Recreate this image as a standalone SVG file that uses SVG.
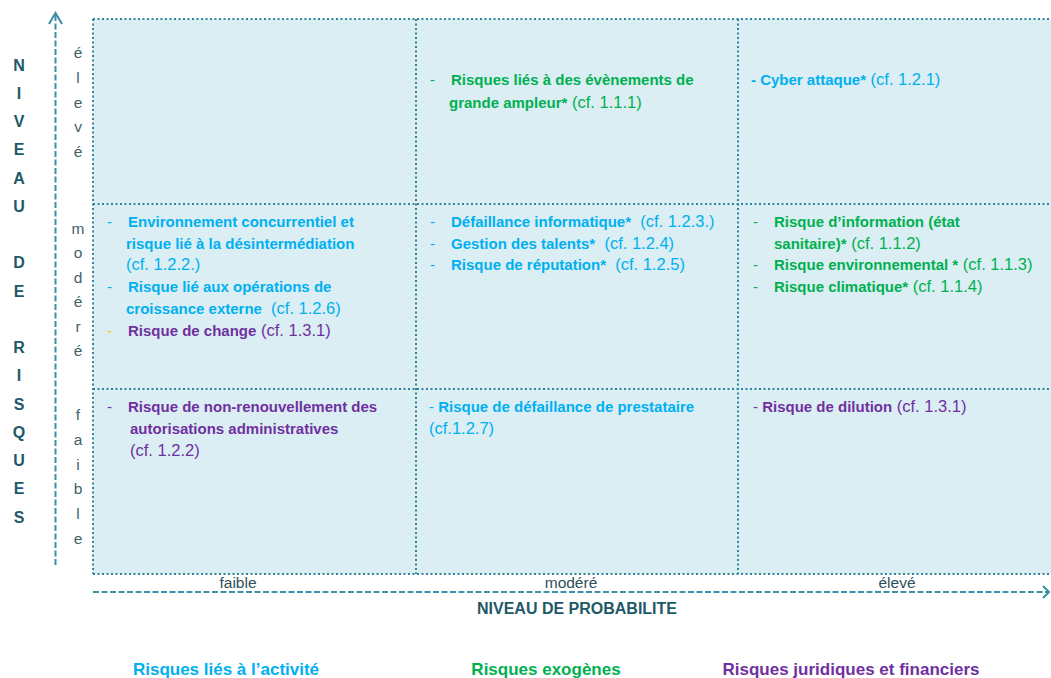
<svg xmlns="http://www.w3.org/2000/svg" width="1051" height="678" viewBox="0 0 1051 678">
<style>
text{font-family:"Liberation Sans",Arial,sans-serif;font-size:15px}
.b{font-weight:bold;font-size:15px}
.r{font-size:16.5px}
.blue{fill:#00B0F0}.green{fill:#00B050}.purple{fill:#7030A0}.orange{fill:#FFC000}
.grid{stroke:#31849B;stroke-width:2;stroke-dasharray:2 2.5;fill:none}
.axis{stroke:#3B8EA5;stroke-width:2;stroke-dasharray:6 2.5;fill:none}
.head{stroke:#3B8EA5;stroke-width:2;fill:none}
.vl{font-size:16px;font-weight:bold;fill:#215868;text-anchor:middle}
.sl{fill:#3F5F6B;text-anchor:middle;font-size:15.5px}
.xl{fill:#2F4F5A;text-anchor:middle;font-size:15.5px}
.leg{font-size:17px;font-weight:bold;text-anchor:middle}
</style>
<g id="background">
<rect x="93" y="19" width="970" height="555" fill="#DAEEF3"/>
</g>
<g id="grid-lines">
<path class="grid" d="M93,19 H1051 M93,204 H1051 M93,389 H1051 M93,574 H1051 M93,19 V574 M416,19 V574 M738,19 V574"/>
</g>
<g id="connectors">
<path class="axis" d="M55.5,565 V14"/>
<path class="head" d="M49,24 L55.5,13 L62,24"/>
<path class="axis" d="M93,592 H1048"/>
<path class="head" d="M1043,586 L1049,592 L1043,598"/>
</g>
<g id="y-axis-title">
<text class="vl" x="19" y="70.5">N</text>
<text class="vl" x="19" y="98.8">I</text>
<text class="vl" x="19" y="127">V</text>
<text class="vl" x="19" y="155.3">E</text>
<text class="vl" x="19" y="183.5">A</text>
<text class="vl" x="19" y="211.8">U</text>
<text class="vl" x="19" y="268.3">D</text>
<text class="vl" x="19" y="296.5">E</text>
<text class="vl" x="19" y="353">R</text>
<text class="vl" x="19" y="381.3">I</text>
<text class="vl" x="19" y="409.5">S</text>
<text class="vl" x="19" y="437.8">Q</text>
<text class="vl" x="19" y="466">U</text>
<text class="vl" x="19" y="494.3">E</text>
<text class="vl" x="19" y="522.5">S</text>
</g>
<g id="y-axis-levels">
<text class="sl" x="78" y="58">é</text>
<text class="sl" x="78" y="83">l</text>
<text class="sl" x="78" y="108">e</text>
<text class="sl" x="78" y="132">v</text>
<text class="sl" x="78" y="157">é</text>
<text class="sl" x="78" y="234">m</text>
<text class="sl" x="78" y="258.4">o</text>
<text class="sl" x="78" y="282.8">d</text>
<text class="sl" x="78" y="307.2">é</text>
<text class="sl" x="78" y="331.6">r</text>
<text class="sl" x="78" y="356">é</text>
<text class="sl" x="78" y="420">f</text>
<text class="sl" x="78" y="444.8">a</text>
<text class="sl" x="78" y="469.6">i</text>
<text class="sl" x="78" y="494.4">b</text>
<text class="sl" x="78" y="519.2">l</text>
<text class="sl" x="78" y="544">e</text>
</g>
<g id="x-axis">
<text class="xl" x="238" y="588">faible</text>
<text class="xl" x="571" y="588">modéré</text>
<text class="xl" x="897" y="588">élevé</text>
<text x="577" y="614" text-anchor="middle" fill="#215868" style="font-size:16px;font-weight:bold">NIVEAU DE PROBABILITE</text>
</g>
<g id="cell-high-moderate">
<text class="green" x="430" y="85">-</text>
<text class="green b" x="451" y="85">Risques liés à des évènements de</text>
<text class="green" x="449" y="108"><tspan class="b">grande ampleur*</tspan><tspan class="r"> (cf. 1.1.1)</tspan></text>
</g>
<g id="cell-high-high">
<text class="blue" x="751" y="85"><tspan class="b">- Cyber attaque*</tspan><tspan class="r"> (cf. 1.2.1)</tspan></text>
</g>
<g id="cell-moderate-low">
<text class="blue" x="107" y="227">-</text>
<text class="blue b" x="128" y="227">Environnement concurrentiel et</text>
<text class="blue b" x="126" y="248.7">risque lié à la désintermédiation</text>
<text class="blue r" x="126" y="270.4">(cf. 1.2.2.)</text>
<text class="blue" x="107" y="292">-</text>
<text class="blue b" x="128" y="292">Risque lié aux opérations de</text>
<text class="blue" x="126" y="313.8" xml:space="preserve"><tspan class="b">croissance externe</tspan><tspan class="r">  (cf. 1.2.6)</tspan></text>
<text class="orange" x="107" y="335.5">-</text>
<text class="purple" x="128" y="335.5"><tspan class="b">Risque de change</tspan><tspan class="r"> (cf. 1.3.1)</tspan></text>
</g>
<g id="cell-moderate-moderate">
<text class="blue" x="430" y="227">-</text>
<text class="blue" x="451" y="227" xml:space="preserve"><tspan class="b">Défaillance informatique*</tspan><tspan class="r">  (cf. 1.2.3.)</tspan></text>
<text class="blue" x="430" y="248.7">-</text>
<text class="blue" x="451" y="248.7" xml:space="preserve"><tspan class="b">Gestion des talents*</tspan><tspan class="r">  (cf. 1.2.4)</tspan></text>
<text class="blue" x="430" y="270.4">-</text>
<text class="blue" x="451" y="270.4" xml:space="preserve"><tspan class="b">Risque de réputation*</tspan><tspan class="r">  (cf. 1.2.5)</tspan></text>
</g>
<g id="cell-moderate-high">
<text class="green" x="753" y="227">-</text>
<text class="green b" x="774" y="227">Risque d’information (état</text>
<text class="green" x="774" y="248.7"><tspan class="b">sanitaire)*</tspan><tspan class="r"> (cf. 1.1.2)</tspan></text>
<text class="green" x="753" y="270.4">-</text>
<text class="green" x="774" y="270.4" xml:space="preserve"><tspan class="b">Risque environnemental *</tspan><tspan class="r"> (cf. 1.1.3)</tspan></text>
<text class="green" x="753" y="292">-</text>
<text class="green" x="774" y="292"><tspan class="b">Risque climatique*</tspan><tspan class="r"> (cf. 1.1.4)</tspan></text>
</g>
<g id="cell-low-low">
<text class="purple" x="107" y="412">-</text>
<text class="purple b" x="128" y="412">Risque de non-renouvellement des</text>
<text class="purple b" x="130" y="434">autorisations administratives</text>
<text class="purple r" x="130" y="456">(cf. 1.2.2)</text>
</g>
<g id="cell-low-moderate">
<text class="blue" x="429" y="412">- <tspan class="b">Risque de défaillance de prestataire</tspan></text>
<text class="blue r" x="429" y="434">(cf.1.2.7)</text>
</g>
<g id="cell-low-high">
<text class="purple" x="753" y="412">- <tspan class="b">Risque de dilution</tspan><tspan class="r"> (cf. 1.3.1)</tspan></text>
</g>
<g id="legend">
<text class="leg blue" x="226" y="675">Risques liés à l’activité</text>
<text class="leg green" x="546" y="675">Risques exogènes</text>
<text class="leg purple" x="851" y="675">Risques juridiques et financiers</text>
</g>
</svg>
